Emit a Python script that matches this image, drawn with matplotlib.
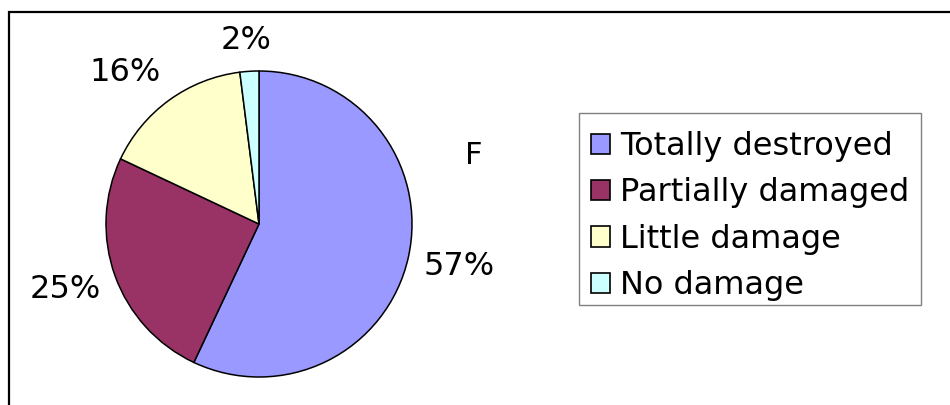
import numpy as np
import matplotlib
matplotlib.use("Agg")
import matplotlib.pyplot as plt
from matplotlib.patches import Rectangle
from matplotlib.transforms import IdentityTransform

categories = ["Totally destroyed", "Partially damaged", "Little damage", "No damage"]
shares = [57, 25, 16, 2]
pct_labels = [f"{v}%" for v in shares]
colors = ["#9999ff", "#993366", "#ffffcc", "#ccffff"]

plt.rcParams['font.family'] = ['DejaVu Sans']

fig = plt.figure(figsize=(9.5, 4.05), dpi=100)
ax = fig.add_axes([0, 0, 1, 1])

# axes units == pixels, so offsets below are in px
cx, cy, r = 259, 181, 153
wedges, texts = ax.pie(shares, labels=pct_labels, colors=colors, startangle=90,
                       counterclock=False, center=(cx, cy), radius=r,
                       wedgeprops=dict(edgecolor="black", linewidth=1.1),
                       textprops=dict(fontsize=23))
ax.set_xlim(0, 950)
ax.set_ylim(0, 405)
ax.set_aspect("equal")
ax.axis("off")

fig.text(474 / 950, 1 - 156 / 405, "F", fontsize=22, ha="center", va="center")

leg = ax.legend(wedges, categories, loc="upper left",
                bbox_to_anchor=(591 / 950, 1 - 131 / 405),
                bbox_transform=fig.transFigure, fontsize=23,
                frameon=False, borderpad=0,
                handlelength=0.6, handleheight=0.6, handletextpad=0.3,
                labelspacing=0.48, borderaxespad=0)
for h in leg.legend_handles:
    h.set_linewidth(1.2)

fig.canvas.draw()

# Excel-style label placement: anchor just outside the rim, push text outward
for w, t in zip(wedges, texts):
    ang = np.deg2rad((w.theta1 + w.theta2) / 2)
    c, s = np.cos(ang), np.sin(ang)
    ext = t.get_window_extent()
    ax_x = cx + 1.1 * r * c + ext.width / 2 * np.clip(c / 0.6, -1, 1)
    ax_y = cy + 1.1 * r * s + ext.height / 2 * np.clip(s / 0.6, -1, 1)
    t.set_position((ax_x, ax_y))
    t.set_ha("center")
    t.set_va("center")

# legend frame: Excel leaves more room above the entries than below
le = leg.get_window_extent()
fig.add_artist(Rectangle((le.x0 - 12, le.y0 - 4), le.width + 24, le.height + 22,
                         fill=False, edgecolor="#808080", linewidth=1.0,
                         transform=IdentityTransform()))

# outer chart-area border (runs off the right and bottom of the image)
fig.add_artist(Rectangle((9 / 950, -0.2), 1.2, 1.2 - 12 / 405, fill=False,
                         edgecolor="black", linewidth=1.6,
                         transform=fig.transFigure))

fig.savefig("out.png", dpi=100)
